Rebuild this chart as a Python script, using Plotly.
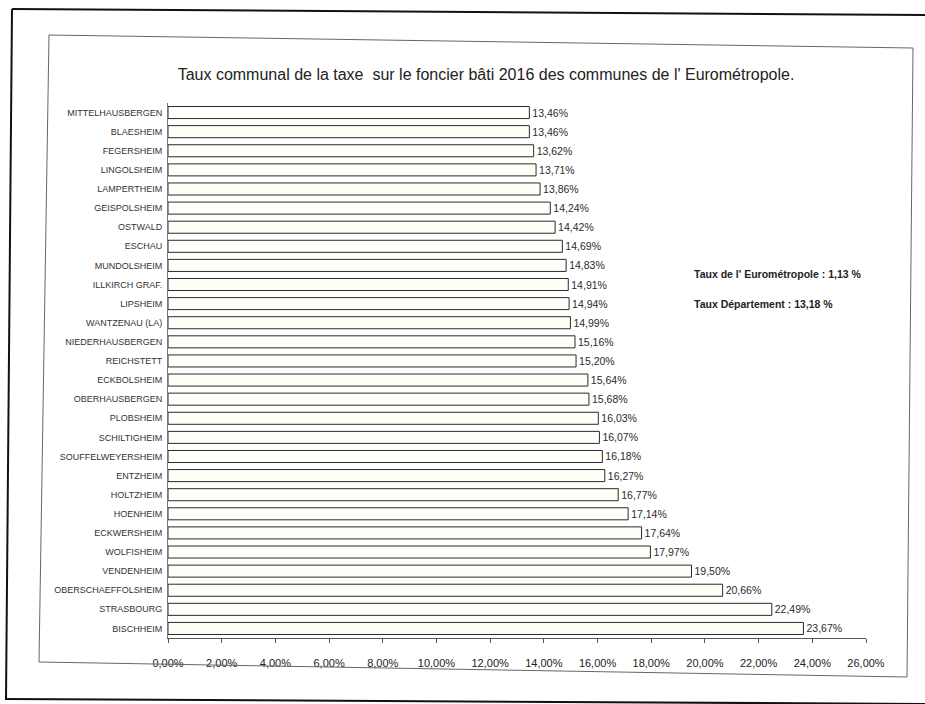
import plotly.graph_objects as go

# Communes of the Eurométropole and their 2016 municipal rate (%) on built property
communes = [
    "MITTELHAUSBERGEN", "BLAESHEIM", "FEGERSHEIM", "LINGOLSHEIM", "LAMPERTHEIM",
    "GEISPOLSHEIM", "OSTWALD", "ESCHAU", "MUNDOLSHEIM", "ILLKIRCH GRAF.",
    "LIPSHEIM", "WANTZENAU (LA)", "NIEDERHAUSBERGEN", "REICHSTETT", "ECKBOLSHEIM",
    "OBERHAUSBERGEN", "PLOBSHEIM", "SCHILTIGHEIM", "SOUFFELWEYERSHEIM", "ENTZHEIM",
    "HOLTZHEIM", "HOENHEIM", "ECKWERSHEIM", "WOLFISHEIM", "VENDENHEIM",
    "OBERSCHAEFFOLSHEIM", "STRASBOURG", "BISCHHEIM",
]
taux = [
    13.46, 13.46, 13.62, 13.71, 13.86,
    14.24, 14.42, 14.69, 14.83, 14.91,
    14.94, 14.99, 15.16, 15.20, 15.64,
    15.68, 16.03, 16.07, 16.18, 16.27,
    16.77, 17.14, 17.64, 17.97, 19.50,
    20.66, 22.49, 23.67,
]
x_ticks = [0, 2, 4, 6, 8, 10, 12, 14, 16, 18, 20, 22, 24, 26]

taux_euro = 1.13
taux_dept = 13.18


def fr_pct(v):
    return f"{v:.2f}".replace(".", ",") + "%"


W, H = 925, 704
L, R, T, B = 168, 59, 103, 66
PW, PH = W - L - R, H - T - B


def px(x):
    return (x - L) / PW


def py(y):
    return 1 - (y - T) / PH


FONT = "Liberation Sans, Arial, sans-serif"

fig = go.Figure(
    go.Bar(
        x=taux,
        y=communes,
        orientation="h",
        marker=dict(color="#fffef8", line=dict(color="#2a2a2a", width=1)),
        text=[fr_pct(v) for v in taux],
        textposition="outside",
        cliponaxis=False,
        textfont=dict(family=FONT, size=10.5, color="#2b2b2b"),
    )
)

shapes = []
# outer page border
for (x0, y0, x1, y1) in [(12, 9, 925, 15), (12, 9, 6, 700), (6, 699, 925, 704)]:
    shapes.append(dict(type="line", xref="paper", yref="paper",
                       x0=px(x0), y0=py(y0), x1=px(x1), y1=py(y1),
                       line=dict(color="#111111", width=2)))
# inner chart frame
frame = [(49, 35), (913, 48), (907, 677), (39, 662)]
path = "M " + " L ".join(f"{px(a):.5f},{py(b):.5f}" for a, b in frame) + " Z"
shapes.append(dict(type="path", xref="paper", yref="paper", path=path,
                   line=dict(color="#666666", width=1)))

fig.update_layout(
    width=W, height=H,
    margin=dict(l=L, r=R, t=T, b=B),
    paper_bgcolor="white",
    plot_bgcolor="white",
    showlegend=False,
    bargap=0.37,
    title=dict(
        text="Taux communal de la taxe  sur le foncier bâti 2016 des communes de l' Eurométropole.",
        xref="paper", x=px(486), xanchor="center",
        yref="container", y=1 - 74 / H, yanchor="middle",
        font=dict(family=FONT, size=16, color="#222222"),
    ),
    xaxis=dict(
        range=[0, 26],
        tickvals=x_ticks,
        ticktext=[fr_pct(v) for v in x_ticks],
        ticks="outside", ticklen=4, tickcolor="#555555",
        ticklabelstandoff=11,
        showline=True, linecolor="#555555", linewidth=1,
        showgrid=False, zeroline=False,
        tickfont=dict(family=FONT, size=11, color="#222222"),
    ),
    yaxis=dict(
        autorange="reversed",
        showline=True, linecolor="#777777", linewidth=1,
        showgrid=False, ticks="", ticklabelstandoff=3,
        tickfont=dict(family=FONT, size=9, color="#333333"),
    ),
    shapes=shapes,
    annotations=[
        dict(text="Taux de l' Eurométropole : " + f"{taux_euro:.2f}".replace(".", ",") + " %",
             xref="paper", yref="paper", x=px(692), y=py(274),
             xanchor="left", yanchor="middle", showarrow=False,
             font=dict(family=FONT, size=10.5, color="#222222", weight="bold")),
        dict(text="Taux Département : " + f"{taux_dept:.2f}".replace(".", ",") + " %",
             xref="paper", yref="paper", x=px(692), y=py(304),
             xanchor="left", yanchor="middle", showarrow=False,
             font=dict(family=FONT, size=10.5, color="#222222", weight="bold")),
    ],
)

fig.write_html("out.html")
